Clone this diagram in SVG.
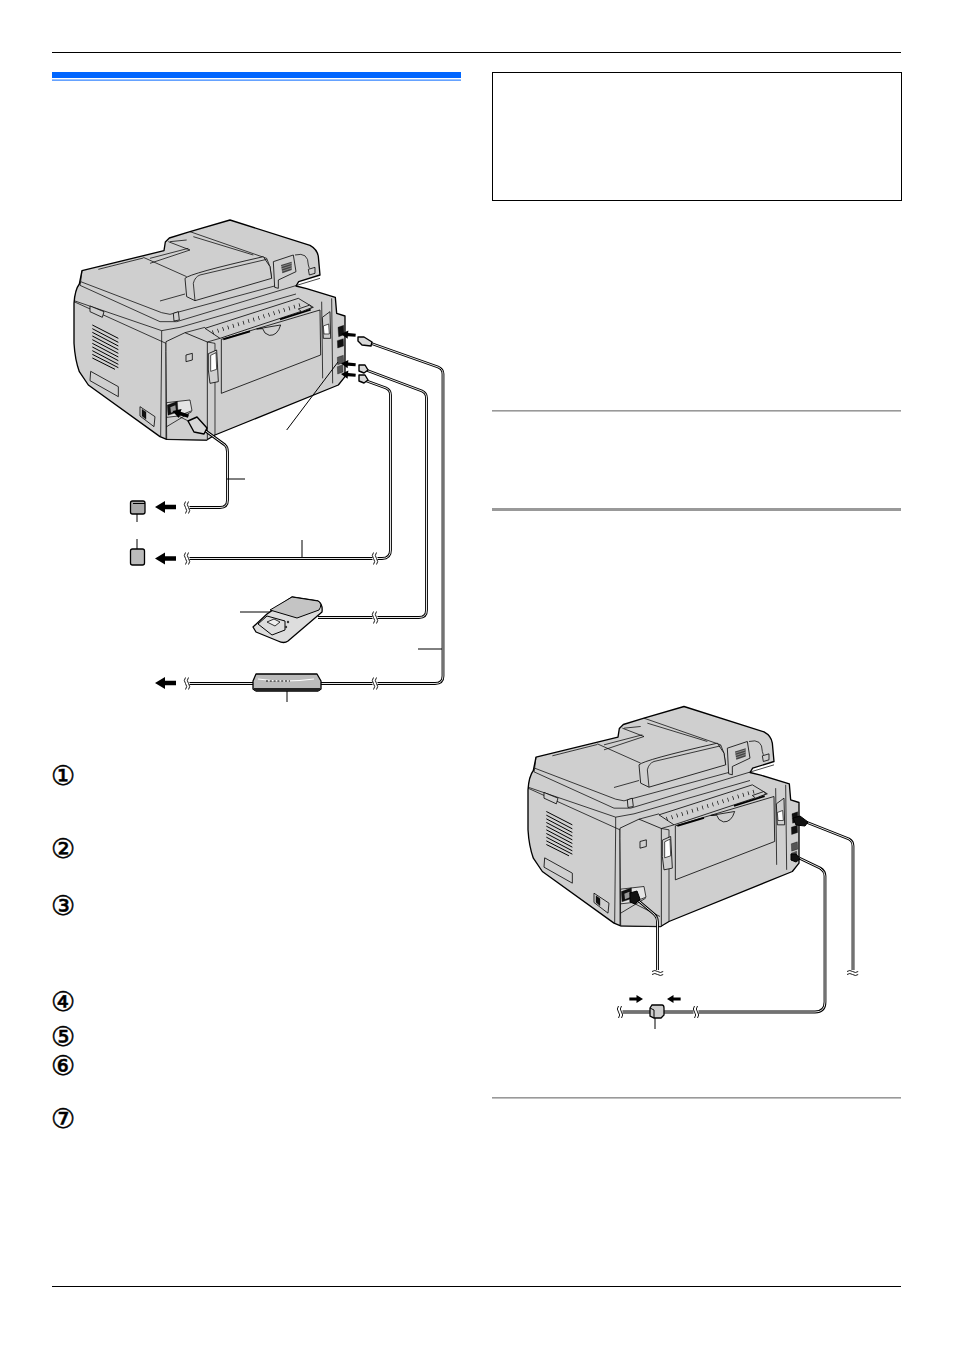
<svg xmlns="http://www.w3.org/2000/svg" xmlns:xlink="http://www.w3.org/1999/xlink" width="954" height="1348" viewBox="0 0 954 1348">
<style>
.ca{fill:none;stroke:#000;stroke-width:2.8;stroke-linejoin:round}
.cb{fill:none;stroke:#e4e4e4;stroke-width:1;stroke-linejoin:round}
.ln{fill:none;stroke:#000;stroke-width:1}
.p{stroke:#000;stroke-width:4;stroke-linejoin:round;fill:#cfcfcf}
.pl{stroke:#000;stroke-width:2.4;stroke-linejoin:round;fill:#cfcfcf}
.pd{stroke:#000;stroke-width:2.2;fill:none;stroke-linejoin:round}
.pk{fill:#111;stroke:#000;stroke-width:1}
.plug{fill:#d8d8d8;stroke:#000;stroke-width:1.400;stroke-linejoin:round}
.num{font-family:"DejaVu Sans",sans-serif;font-size:27px;fill:#000;stroke:#000;stroke-width:.5;text-anchor:middle}
</style>
<defs>
<path id="arr" d="M0,0 L10,-6 L10,-2.2 L21,-2.2 L21,2.2 L10,2.2 L10,6 Z" fill="#000"/>
<g id="brk">
<rect x="-2.5" y="-5" width="5" height="10" fill="#fff"/>
<path d="M-1.5,-6 q-2.4,3 0,6 q2.4,3 0,6 M1.5,-6 q-2.4,3 0,6 q2.4,3 0,6" fill="none" stroke="#000" stroke-width=".9"/>
</g>
<g id="printer">
<path class="p" d="M42,280 C44,250 48,235 58,222 L66,182 L312,122 L316,96 L328,84 L390,65 L510,30 L750,106 Q772,118 775,140 L780,195 L716,215 L708,228 L740,236 L826,262 L830,310 L855,318 L855,500 L835,525 L465,675 L440,690 L320,688 L300,680 L85,525 L58,485 Q45,450 42,400 Z"/>
<path class="pd" d="M390,65 L620,145 L630,170 L635,205 M400,80 L580,135 M325,95 L390,120 L270,160 M330,95 L380,90 M270,145 L385,115 M250,142 L380,200 M66,182 L62,215 L305,308 L330,313 L655,225 M60,226 L300,335 L350,335 L780,205 M42,272 L305,362 L360,352 L708,252 M305,362 L305,395 M62,215 L60,226 M115,178 L250,144"/>
<path class="pl" d="M375,205 Q390,190 610,140 L630,170 L635,205 L405,272 L380,260 Z"/>
<path class="pd" d="M405,272 L400,220 Q405,200 420,195 L620,148 M300,273 L375,252"/>
<path class="pl" d="M640,155 L700,135 L708,185 L655,210 L655,235 L644,232 Z"/>
<path d="M663,165 L695,155 L695,180 L667,190 Z" fill="#444"/>
<path d="M663,170 L695,160 M664,177 L695,167 M665,184 L695,174" stroke="#ccc" stroke-width="1.500"/>
<path class="pd" d="M705,135 Q745,125 745,165 L748,175"/>
<path class="pl" d="M745,178 L765,172 L765,190 L748,195 Z"/>
<path class="pl" d="M340,310 L355,305 L358,330 L342,333 Z"/>
<path class="pd" d="M42,275 L318,400 L318,425 M305,395 L302,680 M318,425 L318,688"/>
<path class="pl" d="M318,395 L375,368 L442,396 L442,690 L320,688 L318,425 Z"/>
<path class="pd" d="M375,368 L435,352 M442,396 L480,385 M785,275 L788,505 M815,265 L818,520 M442,396 L465,400 L465,675"/>
<path class="pl" d="M435,355 L715,265 L760,292 L480,385 Z"/>
<path d="M458,367 L730,282" stroke="#000" stroke-width="12" stroke-dasharray="2 14" fill="none"/>
<path class="pl" d="M484,388 L780,300 L782,435 L484,550 Z"/>
<path d="M490,388 L570,364 M660,328 L752,299" stroke="#000" stroke-width="5" fill="none"/>
<path class="pl" d="M590,357 L662,345 Q652,378 628,376 Q612,372 608,356 Z"/>
<path class="pl" d="M715,297 L750,285 L755,293 L725,305 Z"/>
<path class="pl" d="M445,431 L470,420 L475,515 L450,520 L445,480 Z"/>
<path d="M452,436 L468,428 L470,478 L452,484 Z" fill="#fff" stroke="#000" stroke-width="2"/>
<path class="pl" d="M787,322 L810,305 L812,385 L790,385 Z"/>
<path d="M790,348 L806,342 L808,372 L792,372 Z" fill="#fff" stroke="#000" stroke-width="2"/>
<path class="pl" d="M378,435 L397,430 L397,450 L378,455 Z"/>
<path d="M320,578 L390,570 L396,602 L355,618 L320,622 Z" fill="#e4e4e4" stroke="#000" stroke-width="2.200"/>
<path class="pk" d="M322,585 L352,574 L354,606 L324,616 Z"/>
<path d="M331,592 L346,586 L348,602 L333,608 Z" fill="#999"/>
<path class="pd" d="M320,650 L395,605 M355,618 L438,660"/>
<path class="pl" d="M240,590 L285,620 L282,650 L240,618 Z"/>
<path class="pk" d="M246,598 L258,606 L258,628 L246,618 Z"/>
<path class="pl" d="M90,288 L132,305 L127,322 L90,305 Z"/>
<path class="pl" d="M92,484 L175,530 L175,560 L90,512 Z"/>
<g stroke="#000" stroke-width="3" fill="none">
<path d="M97,345 L175,385 M97,356 L175,397 M97,367 L175,408 M97,378 L175,419 M97,389 L175,430 M97,400 L175,441 M97,411 L175,452 M97,422 L175,463 M97,433 L175,473 M97,444 L165,478"/>
</g>
<path class="pk" d="M834,352 L851,346 L852,374 L836,380 Z"/>
<path class="pk" d="M832,392 L850,386 L851,408 L833,414 Z"/>
<path class="pk" d="M832,442 L850,436 L851,458 L833,464 Z" style="fill:#555"/>
<path class="pk" d="M832,470 L848,464 L849,486 L833,492 Z" style="fill:#555"/>
</g>
</defs>

<g id="page">
<rect width="954" height="1348" fill="#fff"/>
<rect x="52" y="52" width="849" height="1" fill="#000"/>
<rect x="52" y="1286" width="849" height="1" fill="#000"/>
<rect x="52" y="72" width="409" height="6" fill="#0066ff"/>
<rect x="52" y="79.600" width="409" height="1" fill="#0066ff"/>
<rect x="492.500" y="72.500" width="409" height="128" fill="none" stroke="#000"/>
<rect x="492" y="410" width="409" height="1.600" fill="#999"/>
<rect x="492" y="508" width="409" height="3" fill="#999"/>
<rect x="492" y="1097" width="409" height="1.600" fill="#999"/>
</g>

<g id="markers">
<text class="num" x="63" y="784.500">①</text>
<text class="num" x="63" y="857.500">②</text>
<text class="num" x="63" y="914.500">③</text>
<text class="num" x="63" y="1010.500">④</text>
<text class="num" x="63" y="1046">⑤</text>
<text class="num" x="63" y="1074.500">⑥</text>
<text class="num" x="63" y="1127.500">⑦</text>
</g>

<g id="printer-1"><use href="#printer" transform="translate(60,210) scale(.33333)"/></g>
<g id="printer-2"><use href="#printer" transform="translate(514,696.500) scale(.33333)"/></g>

<g id="connectors">
<path class="ca" d="M203,429 L225,445 Q227.500,447 227.500,452 L227.500,500 Q227.500,507.500 220,507.500 L186,507.500"/>
<path class="cb" d="M203,429 L225,445 Q227.500,447 227.500,452 L227.500,500 Q227.500,507.500 220,507.500 L186,507.500"/>
<path class="ca" d="M364,380 L386,388 Q390.500,390 390.500,395 L390.500,550 Q390.500,558.500 382,558.500 L187,558.500"/>
<path class="cb" d="M364,380 L386,388 Q390.500,390 390.500,395 L390.500,550 Q390.500,558.500 382,558.500 L187,558.500"/>
<path class="ca" d="M366,370 L422,391 Q426.500,393 426.500,398 L426.500,610 Q426.500,617.500 419,617.500 L318,617.500"/>
<path class="cb" d="M366,370 L422,391 Q426.500,393 426.500,398 L426.500,610 Q426.500,617.500 419,617.500 L318,617.500"/>
<path class="ca" d="M370,343 L438,367 Q443,369 443,374 L443,676 Q443,683.500 435,683.500 L187,683.500"/>
<path class="cb" d="M370,343 L438,367 Q443,369 443,374 L443,676 Q443,683.500 435,683.500 L187,683.500"/>
<use href="#brk" x="187" y="507.500"/><use href="#brk" x="187" y="558.500"/><use href="#brk" x="375" y="558.500"/>
<use href="#brk" x="375" y="617.500"/><use href="#brk" x="375" y="683.500"/><use href="#brk" x="187" y="683.500"/>

<path class="ca" d="M634,897 L654,914 Q657.500,917 657.500,922 L657.500,970"/>
<path class="cb" d="M634,897 L654,914 Q657.500,917 657.500,922 L657.500,970"/>
<path class="ca" d="M806,822 L849,839 Q853,841 853,846 L853,970"/>
<path class="cb" d="M806,822 L849,839 Q853,841 853,846 L853,970"/>
<path class="ca" d="M797,857 L820,868 Q825,871 825,876 L825,1002 Q825,1012 815,1012 L622,1012"/>
<path class="cb" d="M797,857 L820,868 Q825,871 825,876 L825,1002 Q825,1012 815,1012 L622,1012"/>
<use href="#brk" x="696" y="1012"/><use href="#brk" x="620" y="1012"/>
<path d="M652,971.500 q2.800,-2 5.600,0 t5.600,0 M652,974.500 q2.800,-2 5.600,0 t5.600,0 M847,971.500 q2.800,-2 5.600,0 t5.600,0 M847,974.500 q2.800,-2 5.600,0 t5.600,0" fill="none" stroke="#000" stroke-width=".9"/>

<use href="#arr" x="155" y="507"/><use href="#arr" x="155" y="558.500"/><use href="#arr" x="155" y="683"/>
<use href="#arr" transform="translate(341,334) rotate(5) scale(.7)"/>
<use href="#arr" transform="translate(341,363.500) rotate(5) scale(.7)"/>
<use href="#arr" transform="translate(341,374) rotate(5) scale(.7)"/>
<use href="#arr" transform="translate(172.500,411) rotate(18) scale(.8)"/>
<use href="#arr" transform="translate(643,999) rotate(180) scale(.65)"/>
<use href="#arr" transform="translate(667,999) scale(.65)"/>

<path class="ln" d="M227,479 H245 M137,513 V522 M137,539 V550 M302,540 V558 M240,612 H272 M418,649 H442 M287,687 V702 M286.700,430 L338,362 M655,1017 V1029"/>
</g>

<g id="plugs">
<path class="plug" d="M188,421 L197,417 L207,428 L204,434 L194,432 Z"/>
<path class="plug" d="M358,337 L364,337 L372,342 L371,346 L362,345 L358,341 Z"/>
<path class="plug" d="M359,365 L365,365 L368,370 L364,373 L359,371 Z"/>
<path class="plug" d="M359,375 L365,375 L368,380 L364,383 L359,381 Z"/>
<path class="pk" d="M630,893 L637,891 L640,899 L635,904 L630,902 Z"/>
<path class="pk" d="M793,818 L800,816 L808,822 L805,826 L796,825 Z"/>
<path class="pk" d="M791,854 L796,854 L800,859 L796,862 L791,860 Z"/>
</g>

<g id="socket-1"><rect x="130.500" y="501" width="14.500" height="13" rx="2" fill="#aaa" stroke="#000" stroke-width="1.300"/><path d="M133,503.500 H145" stroke="#000"/></g>
<g id="socket-2"><rect x="130.500" y="549" width="14" height="16" rx="2" fill="#bbb" stroke="#000" stroke-width="1.300"/></g>
<g id="handset">
<path d="M253,627 L267,614 L292,597 L318,601 Q323,604 322,612 L288,641 Q284,644 278,641 L256,632 Z" fill="#ddd" stroke="#000" stroke-width="1.300" stroke-linejoin="round"/>
<path d="M270,610 L292,597 L318,601 Q323,604 319,610 L297,618 Z" fill="#c4c4c4" stroke="#000"/>
<path d="M258,624 L267,616 L285,621 L285,630 L272,635 Z" fill="#ddd" stroke="#000"/>
<path d="M267,622 L274,619 L280,622 L275,626 Z" fill="#eee" stroke="#000" stroke-width=".8"/>
<circle cx="288" cy="622" r="1.200" fill="#333"/><circle cx="286" cy="627" r="1.200" fill="#333"/>
</g>
<g id="router">
<path d="M253,681 L256,674 L317,674 L321,681 L321,689 L318,691 L256,691 L253,689 Z" fill="#bbb" stroke="#000" stroke-width="1.300" stroke-linejoin="round"/>
<path d="M254,688 H320 V691 H254 Z" fill="#222"/>
<path d="M258,679 Q285,683 314,679" fill="none" stroke="#fff" stroke-width="1.100"/>
<path d="M266,681 H290" stroke="#000" stroke-width="1.200" stroke-dasharray="2 1.800"/>
</g>
<g id="coupler">
<path d="M650,1008 L652,1005 H662 Q664,1005 664,1008 V1015 L661,1018 H654 L650,1016 Z" fill="#ccc" stroke="#000" stroke-width="1.300"/>
<path d="M650,1008 L654,1010 V1018" fill="none" stroke="#000"/>
</g>
</svg>
